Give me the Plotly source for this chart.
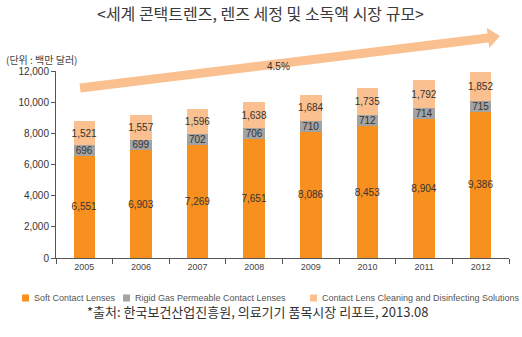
import plotly.graph_objects as go
import math

years = ["2005", "2006", "2007", "2008", "2009", "2010", "2011", "2012"]
soft = [6551, 6903, 7269, 7651, 8086, 8453, 8904, 9386]
rigid = [696, 699, 702, 706, 710, 712, 714, 715]
solutions = [1521, 1557, 1596, 1638, 1684, 1735, 1792, 1852]
series_names = ["Soft Contact Lenses", "Rigid Gas Permeable Contact Lenses",
                "Contact Lens Cleaning and Disinfecting Solutions"]
colors = ["#F7901E", "#A3A3A3", "#FAC08F"]
y_ticks = [0, 2000, 4000, 6000, 8000, 10000, 12000]
cagr_label = "4.5%"

W, H = 522, 337
L, R, T, B = 56, 13, 71, 79
pw, ph = W - L - R, H - T - B

def px(x):
    return (x - L) / pw

def py(y):
    return (H - B - y) / ph

fig = go.Figure()
for name, vals, col in zip(series_names, [soft, rigid, solutions], colors):
    fig.add_trace(go.Bar(
        x=years, y=vals, name=name, marker=dict(color=col, line=dict(width=0)),
        text=[f"{v:,}" for v in vals], textposition="inside", insidetextanchor="middle",
        textangle=0, constraintext="none",
        textfont=dict(size=10, color="#333333", family="Liberation Sans, Arial"),
        width=0.38, showlegend=False,
    ))

# growth arrow (polygon in paper coords)
x0, y0 = 80, 88
x1, y1 = 488, 38
xt, yt = 500, 36
dx, dy = x1 - x0, y1 - y0
ln = math.hypot(dx, dy)
nx, ny = -dy / ln, dx / ln
hw = 4.5
hh = 10
pts = [
    (x0 + nx * hw, y0 + ny * hw),
    (x1 + nx * hw, y1 + ny * hw),
    (x1 + nx * hh, y1 + ny * hh),
    (xt, yt),
    (x1 - nx * hh, y1 - ny * hh),
    (x1 - nx * hw, y1 - ny * hw),
    (x0 - nx * hw, y0 - ny * hw),
]
path = "M " + " L ".join(f"{px(a):.4f},{py(b):.4f}" for a, b in pts) + " Z"
fig.add_shape(type="path", path=path, xref="paper", yref="paper",
              fillcolor="#FAC08F", line=dict(width=0), layer="below")

fig.add_annotation(text=cagr_label, x=px(278), y=py(59), xref="paper", yref="paper",
                   showarrow=False, font=dict(size=10, color="#333333", family="Liberation Sans, Arial"))

fig.add_annotation(text="&lt;세계 콘택트렌즈, 렌즈 세정 및 소독액 시장 규모&gt;",
                   x=px(260), y=py(13), xref="paper", yref="paper", yanchor="middle", xanchor="center",
                   showarrow=False, font=dict(size=16, color="#3a3a3a", family="Noto Sans CJK KR"))
fig.add_annotation(text="(단위 : 백만 달러)", x=px(4), y=py(50), xref="paper", yref="paper",
                   xanchor="left", showarrow=False,
                   font=dict(size=10, color="#444444", family="Noto Sans CJK KR"))
fig.add_annotation(text="*출처: 한국보건산업진흥원, 의료기기 품목시장 리포트, 2013.08",
                   x=px(258), y=py(323), xref="paper", yref="paper",
                   xanchor="center", showarrow=False,
                   font=dict(size=13, color="#333333", family="Noto Sans CJK KR"))

# manual legend
leg_sq_x = [22, 123, 310]
leg_y = 298
for sx, name, col in zip(leg_sq_x, series_names, colors):
    fig.add_shape(type="rect", xref="paper", yref="paper",
                  x0=px(sx), x1=px(sx + 7), y0=py(leg_y + 3.5), y1=py(leg_y - 3.5),
                  fillcolor=col, line=dict(width=0))
    fig.add_annotation(text=name, x=px(sx + 10), y=py(leg_y), xref="paper", yref="paper",
                       xanchor="left", yanchor="middle", showarrow=False,
                       font=dict(size=9, color="#555555", family="Liberation Sans, Arial"))

fig.update_layout(
    width=W, height=H, barmode="stack",
    margin=dict(l=L, r=R, t=T, b=B, autoexpand=False),
    plot_bgcolor="white", paper_bgcolor="white",
    showlegend=False,
    xaxis=dict(showline=True, linecolor="#555555", linewidth=1, ticks="outside",
               tickson="boundaries", ticklen=5, tickcolor="#555555",
               tickfont=dict(size=9, color="#444444", family="Liberation Sans, Arial"),
               showgrid=False),
    yaxis=dict(range=[0, 12000], tickvals=y_ticks, tickformat=",", showline=True,
               linecolor="#555555", linewidth=1, ticks="outside", ticklen=4,
               tickcolor="#555555", showgrid=False, zeroline=False,
               tickfont=dict(size=10, color="#333333", family="Liberation Sans, Arial")),
)

fig.write_html("out.html")
